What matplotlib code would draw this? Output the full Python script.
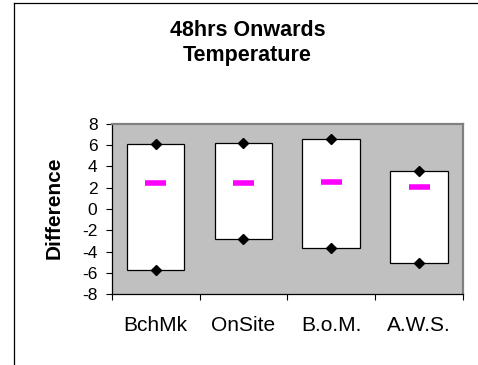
import numpy as np
import matplotlib.pyplot as plt
from matplotlib.lines import Line2D

plt.rcParams['font.family'] = ['Liberation Sans', 'DejaVu Sans']

# dados: diferenças máxima, mínima e média por fonte
fontes = ['BchMk', 'OnSite', 'B.o.M.', 'A.W.S.']
maximos = [6.15, 6.2, 6.6, 3.55]
minimos = [-5.7, -2.8, -3.7, -5.1]
medias = [2.45, 2.4, 2.55, 2.1]
ticks_y = [-8, -6, -4, -2, 0, 2, 4, 6, 8]

fig = plt.figure(figsize=(4.78, 3.65), dpi=100)
ax = fig.add_axes([0.2337, 0.1945, 0.7349, 0.4658])
ax.set_facecolor('#C0C0C0')

x = np.arange(len(fontes))
largura = 0.656

# caixas entre mínimo e máximo
ax.bar(x, np.array(maximos) - np.array(minimos), bottom=minimos, width=largura,
       color='white', edgecolor='black', linewidth=0.9, zorder=2)
ax.plot(x, maximos, 'D', color='black', markersize=5, zorder=3)
ax.plot(x, minimos, 'D', color='black', markersize=5, zorder=3)
ax.hlines(medias, x - 0.12, x + 0.12, color='#FF00FF', linewidth=4,
          capstyle='butt', zorder=3)

ax.set_xlim(-0.5, len(fontes) - 0.5)
ax.set_ylim(-8, 8)
ax.set_yticks(ticks_y)
ax.set_yticklabels([str(v) for v in ticks_y], fontsize=12.5)
ax.tick_params(axis='y', direction='out', length=4.3, width=0.8, pad=6)

ax.set_xticks(x)
ax.set_xticklabels(fontes, fontsize=15)
ax.set_xticks(np.arange(len(fontes) + 1) - 0.5, minor=True)
ax.tick_params(axis='x', which='major', length=0, pad=16)
ax.tick_params(axis='x', which='minor', direction='out', length=4.3, width=0.8)

for lado in ['top', 'right']:
    ax.spines[lado].set_color('#808080')
    ax.spines[lado].set_linewidth(1.6)
for lado in ['left', 'bottom']:
    ax.spines[lado].set_color('black')
    ax.spines[lado].set_linewidth(0.9)

fig.text(0.518, 0.882, '48hrs Onwards\nTemperature', ha='center', va='center',
         fontsize=15.5, fontweight='bold', linespacing=1.2)
fig.text(0.113, 0.430, 'Difference', ha='center', va='center', rotation=90,
         fontsize=15, fontweight='bold')

# moldura externa do gráfico
x0 = 14 / 478
y0 = 1 - 2.5 / 365
fig.add_artist(Line2D([x0, x0], [0, y0], color='black', linewidth=0.9,
                      transform=fig.transFigure))
fig.add_artist(Line2D([x0, 1], [y0, y0], color='black', linewidth=0.9,
                      transform=fig.transFigure))

fig.savefig('out.png', dpi=100)
